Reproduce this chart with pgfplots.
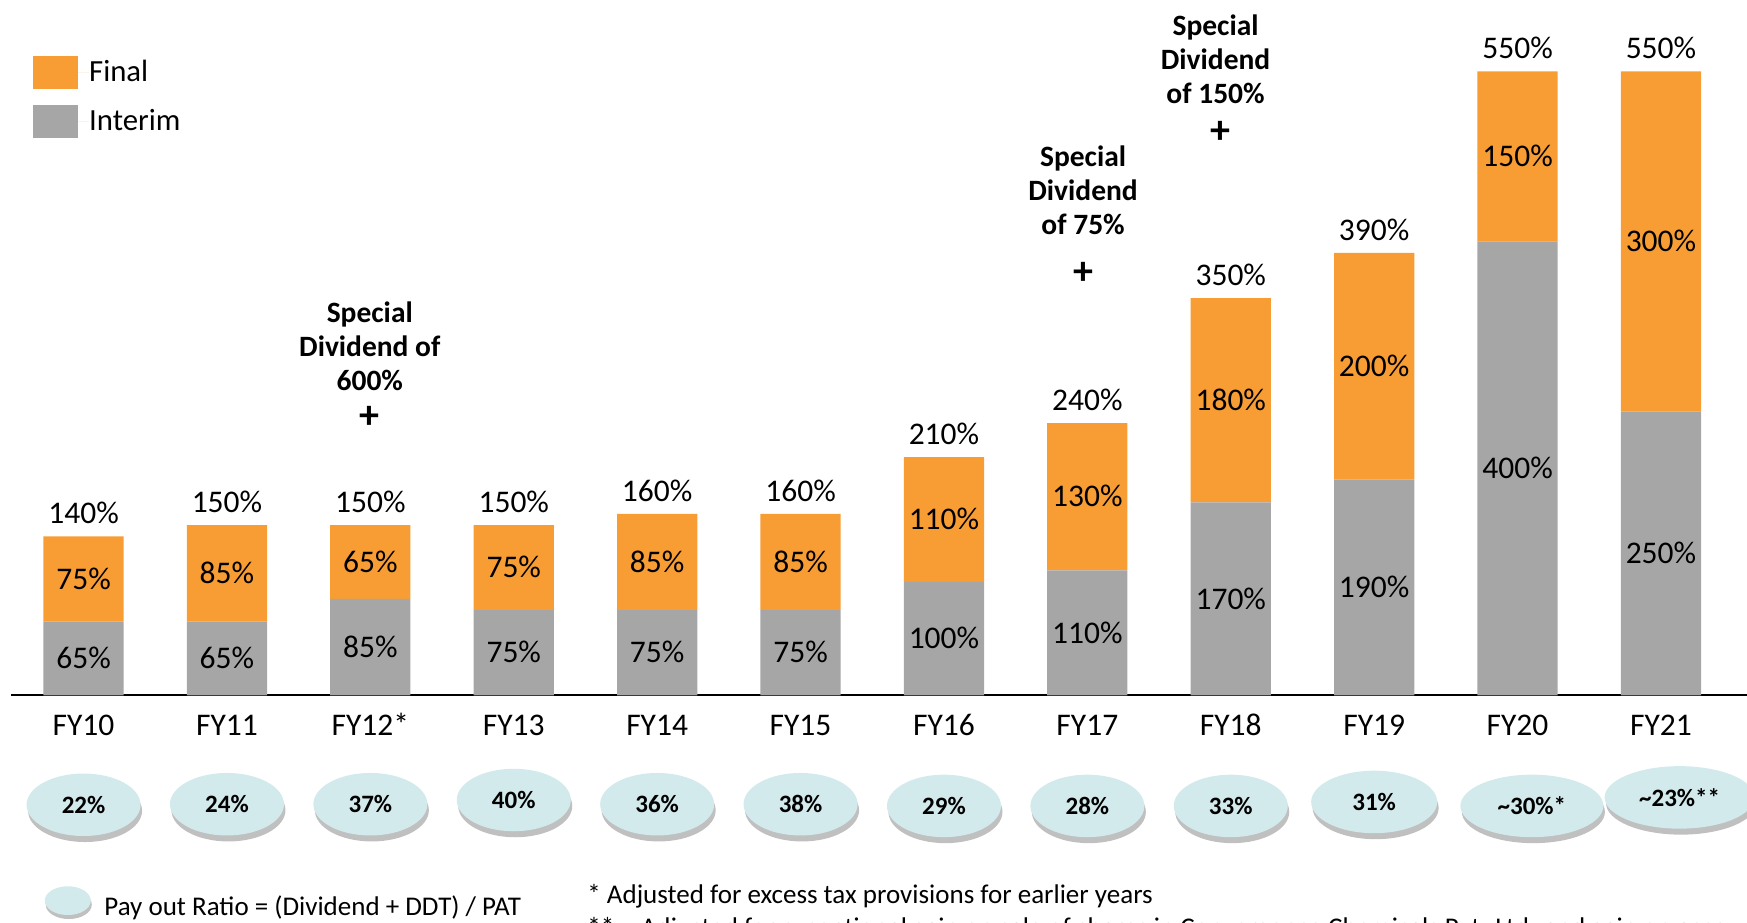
\documentclass[border=0pt]{standalone}
\usepackage{fontspec}
\setmainfont{Carlito}
\usepackage{pgfplots}
\pgfplotsset{compat=1.18}
\usepackage{pgfplotstable}
\usetikzlibrary{shadows,shapes.geometric}

\definecolor{cfinal}{HTML}{F79D34}
\definecolor{cinterim}{HTML}{A6A6A6}
\definecolor{cell}{HTML}{D3EAED}

\pgfplotstableread{
x interim final total
0 65 75 140
1 65 85 150
2 85 65 150
3 75 75 150
4 75 85 160
5 75 85 160
6 100 110 210
7 110 130 240
8 170 180 350
9 190 200 390
10 400 150 550
11 250 300 550
}\divdata

\pgfplotstableread{
x y label
0 32.5 65
1 32.5 65
2 42.5 85
3 37.5 75
4 37.5 75
5 37.5 75
6 50 100
7 55 110
8 85 170
9 95 190
10 200 400
11 125 250
0 102.5 75
1 107.5 85
2 117.5 65
3 112.5 75
4 117.5 85
5 117.5 85
6 155 110
7 175 130
8 260 180
9 290 200
10 475 150
11 400 300
}\seglabels

\pgfplotstableread{
x y w label
0 -96.5 45.6 22\%
1 -96 45.6 24\%
2 -96 45.6 37\%
3 -92.3 45.6 40\%
4 -96 45.6 36\%
5 -96 45.6 38\%
6 -97.5 45.6 29\%
7 -97.5 45.6 28\%
8 -97.5 45.6 33\%
9 -94 50.4 31\%
10.1 -97.5 57.2 \textasciitilde30\%*
11.13 -90 60 \textasciitilde23\%**
}\elldata

\pgfplotsset{base/.style={
  scale only axis, width=694.4pt, height=272.28pt,
  xmin=-0.506, xmax=11.6, ymin=0, ymax=600,
  at={(4.4pt,91.08pt)}, anchor=south west, clip=false,
}}

\newcommand{\lblfont}{\fontsize{12.6}{15}\selectfont}
\newcommand{\notefont}{\fontsize{10.8}{13}\selectfont}

\begin{document}
\begin{tikzpicture}
\useasboundingbox (0,0) rectangle (698.8pt,369.2pt);
\clip (0,0) rectangle (698.8pt,369.2pt);

\begin{axis}[base, ybar stacked, bar width=32.1pt,
  axis x line=bottom, axis y line=none, ytick=\empty,
  x axis line style={-, black, line width=0.9pt},
  xtick={0,...,11},
  xticklabels={FY10,FY11,FY12*,FY13,FY14,FY15,FY16,FY17,FY18,FY19,FY20,FY21},
  xtick style={draw=none}, major tick length=0pt,
  xticklabel style={font=\lblfont, anchor=base, yshift=-16pt},
  reverse legend,
  legend image code/.code={\fill[#1] (0pt,-6.75pt) rectangle (18pt,6.75pt); \path (0pt,0pt) -- (22.4pt,0pt);},
  legend style={draw=none, fill=none, at={(axis description cs:0.0125,0.9406)},
    anchor=north west, inner sep=0pt, row sep=6.1pt,
    font=\fontsize{12.3}{14}\selectfont,
    nodes={inner sep=0pt, anchor=west}},
  legend cell align=left,
]
\addplot[fill=cinterim, draw=none] table[x=x,y=interim]{\divdata};
\addplot[fill=cfinal, draw=none] table[x=x,y=final]{\divdata};
\legend{Interim,Final}
\end{axis}

\begin{axis}[base, hide axis]
% totals above bars
\addplot[draw=none, mark=none, point meta=explicit symbolic,
  nodes near coords={\pgfplotspointmeta\%},
  nodes near coords style={anchor=base, yshift=5.1pt, inner sep=0pt, font=\lblfont, text=black}]
  table[x=x,y=total,meta=total]{\divdata};
% segment labels
\addplot[draw=none, mark=none, point meta=explicit symbolic,
  nodes near coords={\pgfplotspointmeta\%},
  nodes near coords style={anchor=base, yshift=-4.06pt, inner sep=0pt, font=\lblfont, text=black}]
  table[x=x,y=y,meta=label]{\seglabels};
% payout ratio ellipses
\addplot[draw=none, mark=none, point meta=explicit symbolic,
  visualization depends on={\thisrow{w} \as \ew},
  nodes near coords={\pgfplotspointmeta},
  nodes near coords style={anchor=center, ellipse, fill=cell, text=black,
    minimum width={\ew*1pt}, minimum height=25pt, inner sep=0pt,
    font=\bfseries\fontsize{10}{12}\selectfont,
    drop shadow={shadow xshift=0.6pt, shadow yshift=-2.4pt, fill=black!45, opacity=0.55}}]
  table[x=x,y=y,meta=label]{\elldata};
\node[font=\fontsize{9}{9}\selectfont] at (axis cs:1,-114) {`};
% special dividend annotations
\node[align=center, font=\bfseries\fontsize{11.8}{13.6}\selectfont] at (axis cs:1.996,308) {Special\\Dividend of\\600\%};
\node[font=\bfseries\fontsize{16}{16}\selectfont] at (axis cs:1.996,245.3) {+};
\node[align=center, font=\bfseries\fontsize{11.8}{13.6}\selectfont] at (axis cs:6.97,445) {Special\\Dividend\\of 75\%};
\node[font=\bfseries\fontsize{16}{16}\selectfont] at (axis cs:6.97,372.2) {+};
\node[align=center, font=\bfseries\fontsize{11.8}{13.6}\selectfont] at (axis cs:7.894,561) {Special\\Dividend\\of 150\%};
\node[font=\bfseries\fontsize{16}{16}\selectfont] at (axis cs:7.93,496) {+};
% footnotes
\node[ellipse, fill=cell, minimum width=18.4pt, minimum height=11.5pt, inner sep=0pt,
  drop shadow={shadow xshift=0.4pt, shadow yshift=-1.6pt, fill=black!45, opacity=0.55}] at (axis cs:-0.11,-181) {};
\node[anchor=base west, inner sep=0pt, font=\notefont] at (axis cs:0.142,-194.5) {Pay out Ratio = (Dividend + DDT) / PAT};
\node[anchor=base west, inner sep=0pt, font=\notefont] at (axis cs:3.51,-183.5) {* Adjusted for excess tax provisions for earlier years};
\node[anchor=base west, inner sep=0pt, font=\notefont] at (axis cs:3.51,-213) {**\ \ - Adjusted for exceptional gain on sale of shares in Convergence Chemicals Pvt. Ltd. and gain on account};
\end{axis}
\end{tikzpicture}
\end{document}
